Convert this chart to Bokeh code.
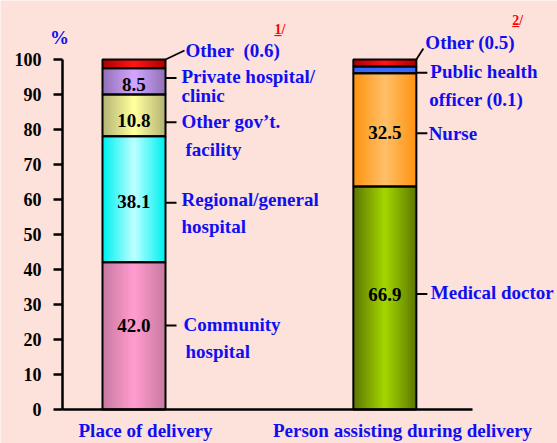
import numpy as np
from bokeh.plotting import figure
from bokeh.models import ColumnDataSource, Range1d, FixedTicker
from bokeh.core.properties import value
from bokeh.embed import file_html
from bokeh.resources import INLINE

# ---------------- data ----------------
categories = ["Place of delivery", "Person assisting during delivery"]

place_names = ["Community hospital", "Regional/general hospital",
               "Other gov't facility", "Private hospital/clinic", "Other"]
place_values = [42.0, 38.1, 10.8, 8.5, 0.6]          # printed percentages
place_drawn = [42.1, 36.0, 11.9, 7.5, 2.5]           # segment heights as drawn

person_names = ["Medical doctor", "Nurse", "Public health officer", "Other"]
person_values = [66.9, 32.5, 0.1, 0.5]
person_drawn = [63.7, 32.4, 1.9, 2.0]

y_ticks = [0, 10, 20, 30, 40, 50, 60, 70, 80, 90, 100]

# value labels inside the bars (y position of each printed value)
place_value_y = [24.0, 59.5, 82.6, 92.8]
person_value_y = [33.0, 79.0]

# side notes
note_text = ["Community", "hospital", "Regional/general", "hospital",
             "Other gov\u2019t.", "facility", "Private hospital/", "clinic",
             "Other\u00a0 (0.6)",
             "Medical doctor", "Nurse", "Public health", "officer (0.1)", "Other (0.5)"]
note_bar = [0, 0, 0, 0, 0, 0, 0, 0, 0, 1, 1, 1, 1, 1]
note_y = [24.2, 16.6, 59.9, 52.3, 82.4, 74.3, 95.1, 89.7, 102.6,
          33.5, 78.8, 96.6, 88.6, 104.9]
note_dx = [18, 20, 16, 16, 16, 20, 16, 16, 20, 14.5, 12.3, 14, 13, 9]

leader_bar = [0, 0, 0, 0, 1, 1, 1]
leader_y = [24.0, 59.1, 82.1, 94.7, 33.0, 78.9, 96.2]

foot_text = ["1/", "2/"]
foot_dx = [109, 96]
foot_y = [108.6, 111.1]

# ---------------- style ----------------
BG = "#FDE1DB"
BLUE = "#0F0FEF"
FONT = "Liberation Serif"

place_edge = ["#C97AA2", "#00F0F0", "#B5B578", "#9272B8", "#B00000"]
place_center = ["#FF9CCE", "#B8FFFF", "#FFFF9C", "#D2A4FF", "#FF1414"]
person_edge = ["#5E7A00", "#FF9412", "#3366FF", "#B00000"]
person_center = ["#A2D400", "#FFBE66", "#3A6CFF", "#FF1414"]

x_pos = [1.0, 2.0]
bar_width = 0.2512
x_start, x_end = 0.4678, 2.6883
y_start, y_end = -9.714, 116.857
y_axis_at = 0.7150
x_axis_end = 2.35
cat_label_y = -6.0


def hex2rgb(h):
    h = h.lstrip("#")
    return np.array([int(h[i:i + 2], 16) for i in (0, 2, 4)], dtype=float)


def mix(a, b, t):
    c = hex2rgb(a) * (1 - t) + hex2rgb(b) * t
    return "#%02x%02x%02x" % tuple(int(round(v)) for v in c)


p = figure(width=557, height=443,
           x_range=Range1d(x_start, x_end), y_range=Range1d(y_start, y_end),
           output_backend="svg", toolbar_location=None,
           min_border=0, min_border_left=0, min_border_right=0,
           min_border_top=0, min_border_bottom=0)
p.background_fill_color = BG
p.border_fill_color = BG
p.outline_line_color = None
p.xgrid.visible = False
p.ygrid.visible = False

# ---------------- bars (stepped gradient) ----------------
N = 16
grad = dict(x=[], bottom=[], top=[], width=[], color=[])
outl = dict(x=[], bottom=[], top=[])
for bx, drawn, edges, centers in [(x_pos[0], place_drawn, place_edge, place_center),
                                  (x_pos[1], person_drawn, person_edge, person_center)]:
    tops = np.cumsum(drawn)
    bottoms = tops - np.array(drawn)
    for s in range(len(drawn)):
        for k in range(N):
            t = k / (N - 1)
            grad["x"].append(bx)
            grad["bottom"].append(bottoms[s])
            grad["top"].append(tops[s])
            grad["width"].append(bar_width * (1 - k / N))
            grad["color"].append(mix(edges[s], centers[s], t))
        outl["x"].append(bx)
        outl["bottom"].append(bottoms[s])
        outl["top"].append(tops[s])

p.vbar(x="x", bottom="bottom", top="top", width="width", fill_color="color",
       line_color=None, source=ColumnDataSource(grad))
p.vbar(x="x", bottom="bottom", top="top", width=bar_width, fill_color=None,
       line_color="black", line_width=2, source=ColumnDataSource(outl))

# ---------------- value labels inside bars ----------------
vt, vx, vy = [], [], []
for i, yv in enumerate(place_value_y):
    vt.append(f"{place_values[i]:.1f}"); vx.append(x_pos[0]); vy.append(yv)
for i, yv in enumerate(person_value_y):
    vt.append(f"{person_values[i]:.1f}"); vx.append(x_pos[1]); vy.append(yv)
p.text(x=vx, y=vy, text=vt, text_align="center", text_baseline="middle",
       text_font=value(FONT), text_font_style="bold", text_font_size="19px",
       text_color="black")

# ---------------- side notes ----------------
right_edge = [x + bar_width / 2 for x in x_pos]
p.text(x=[right_edge[b] for b in note_bar], y=note_y, text=note_text,
       x_offset=note_dx, text_align="left", text_baseline="middle",
       text_font=value(FONT), text_font_style="bold", text_font_size="19px",
       text_color=BLUE)

# leader lines
p.ray(x=[right_edge[b] for b in leader_bar], y=leader_y, length=11,
      length_units="screen", angle=0, line_color="black", line_width=2)
p.ray(x=right_edge, y=[100, 100], length=[21, 13], length_units="screen",
      angle=[0.44, 1.0], line_color="black", line_width=1.8)

# footnote markers (with underline under the number)
p.text(x=right_edge, y=foot_y, text=foot_text, x_offset=foot_dx,
       text_align="left", text_baseline="middle", text_font=value(FONT),
       text_font_style="bold", text_font_size="14px", text_color="#FF0000")
p.text(x=right_edge, y=foot_y, text=["_", "_"], x_offset=foot_dx,
       text_align="left", text_baseline="middle", text_font=value(FONT),
       text_font_style="bold", text_font_size="14px", text_color="#FF0000")

# "%" and category labels
p.text(x=[y_axis_at], y=[106.4], text=["%"], x_offset=-3, text_align="center",
       text_baseline="middle", text_font=value(FONT), text_font_style="bold",
       text_font_size="19px", text_color=BLUE)
cat_dx = [11.5, 17.7]
p.text(x=x_pos, y=[cat_label_y, cat_label_y], text=categories, x_offset=cat_dx,
       text_align="center", text_baseline="middle", text_font=value(FONT),
       text_font_style="bold", text_font_size="19px", text_color=BLUE)

# ---------------- axes (drawn at fixed positions inside the canvas) ----------------
p.yaxis.fixed_location = y_axis_at
p.yaxis.ticker = FixedTicker(ticks=y_ticks)
p.yaxis.bounds = (0, 100)
p.yaxis.axis_line_width = 2.5
p.yaxis.major_tick_line_width = 2.5
p.yaxis.major_tick_out = 9
p.yaxis.major_tick_in = 0
p.yaxis.minor_tick_out = 0
p.yaxis.minor_tick_in = 0
p.yaxis.major_label_standoff = 12
p.yaxis.major_label_text_font = FONT
p.yaxis.major_label_text_font_style = "bold"
p.yaxis.major_label_text_font_size = "18px"
p.yaxis.major_label_text_color = "black"

p.xaxis.fixed_location = 0
p.xaxis.ticker = FixedTicker(ticks=[])
p.xaxis.bounds = (y_axis_at, x_axis_end)
p.xaxis.axis_line_width = 2.5
p.xaxis.major_tick_out = 0
p.xaxis.major_tick_in = 0
p.xaxis.minor_tick_out = 0
p.xaxis.minor_tick_in = 0
p.xaxis.major_label_text_font_size = "0px"

html = file_html(p, INLINE)
html = html.replace("<body>", '<body style="background-color:%s;">' % BG, 1)
open("out.html", "w").write(html)
